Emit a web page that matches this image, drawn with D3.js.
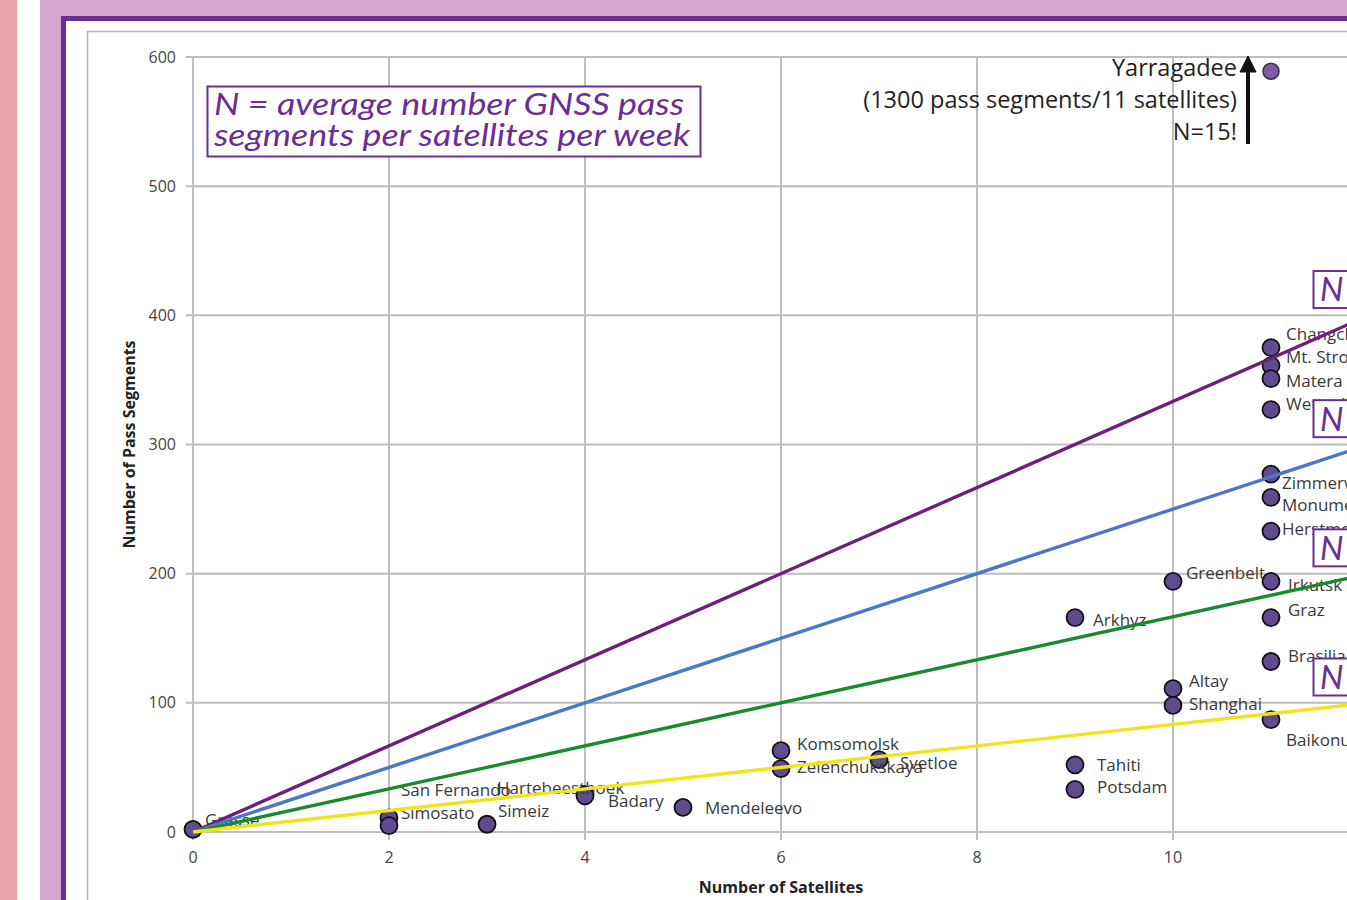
<!DOCTYPE html>
<html><head><meta charset="utf-8">
<script src="https://cdn.jsdelivr.net/npm/d3@7"></script>
<style>body{margin:0;overflow:hidden;background:#fff}</style>
</head><body>
<svg id="c" width="1347" height="900"></svg>
<script>
// ---- data ----
const stations = ["Grasse","San Fernando","Simosato","Simeiz","Hartebeesthoek","Badary","Mendeleevo",
  "Komsomolsk","Zelenchukskaya","Svetloe","Arkhyz","Tahiti","Potsdam","Greenbelt","Altay","Shanghai",
  "Changchun","Mt. Stromlo","Matera","Wettzell","Zimmerwald","Monument Peak","Herstmonceux","Irkutsk",
  "Graz","Brasilia","Baikonur"];
const satellites = [0,2,2,3,4,4,5,6,6,7,9,9,9,10,10,10,11,11,11,11,11,11,11,11,11,11,11];
const segments   = [2,11,5,6,29,28,19,63,49,56,166,52,33,194,111,98,375,361,351,327,277,259,233,194,166,132,87];
const labelDx = [12,12,12,11,-88,23,22,16,16,21,18,22,22,13,16,16,15,15,15,15,11,11,11,17,17,17,15];
const labelDy = [-9,-28,-12,-13,-6,5,1,-7,-2,3,2,0,-2,-8,-8,-1,-14,-9,2,-6,9,8,-2,4,-8,-5,20];
const outlierName = "Yarragadee", outlierSat = 11, outlierPlotted = 589;
const outlierText = ["Yarragadee","(1300 pass segments/11 satellites)","N=15!"];
const xTicks = [0,2,4,6,8,10,12];
const yTicks = [0,100,200,300,400,500,600];
const lineN = [4,3,2,1];
const lineEndX = 12;
const lineEndY = [400,300,200,100];
const lineColors = ["#6e1f7c","#4b78c6","#1a8a2e","#f0e41c"];
const legendText = ["N = average number GNSS pass","segments per satellites per week"];

// ---- layout ----
const svg = d3.select("#c");
svg.append("rect").attr("x",0).attr("y",0).attr("width",1347).attr("height",900).attr("fill","#fff");
svg.append("rect").attr("x",0).attr("y",0).attr("width",17).attr("height",900).attr("fill","#e8a6a9");
svg.append("rect").attr("x",40).attr("y",0).attr("width",1307).attr("height",900).attr("fill","#d4a6d0");
svg.append("rect").attr("x",63.5).attr("y",18.5).attr("width",1300).attr("height",900)
  .attr("fill","#fff").attr("stroke","#6a2e94").attr("stroke-width",5);
svg.append("rect").attr("x",87.5).attr("y",31.5).attr("width",1300).attr("height",900)
  .attr("fill","#fff").attr("stroke","#b4b4b4").attr("stroke-width",1.5);

const x = d3.scaleLinear().domain([0,12]).range([193,1369]);
const y = d3.scaleLinear().domain([0,600]).range([832,57]);

const grid = svg.append("g");
grid.selectAll("line.h").data(yTicks).join("line")
  .attr("x1",186).attr("x2",1369).attr("y1",d=>y(d)).attr("y2",d=>y(d))
  .attr("stroke","#bdbdbd").attr("stroke-width",2);
grid.selectAll("line.v").data(xTicks).join("line")
  .attr("x1",d=>x(d)).attr("x2",d=>x(d)).attr("y1",y(600)).attr("y2",840)
  .attr("stroke","#bdbdbd").attr("stroke-width",2);

const tickFont = "'Open Sans', sans-serif";
svg.append("g").selectAll("text").data(yTicks).join("text")
  .attr("x",176).attr("y",d=>y(d)).attr("dy","0.35em").attr("text-anchor","end")
  .attr("font-family",tickFont).attr("font-size",16).attr("fill","#444").text(d=>d);
svg.append("g").selectAll("text").data(xTicks).join("text")
  .attr("x",d=>x(d)).attr("y",857).attr("dy","0.35em").attr("text-anchor","middle")
  .attr("font-family",tickFont).attr("font-size",16).attr("fill","#444").text(d=>d);

svg.append("text").attr("x",x(6)).attr("y",887).attr("dy","0.35em").attr("text-anchor","middle")
  .attr("font-family",tickFont).attr("font-size",16).attr("font-weight","bold").attr("fill","#222")
  .text("Number of Satellites");
svg.append("text").attr("transform","translate(129,"+y(300)+") rotate(-90)").attr("dy","0.35em")
  .attr("text-anchor","middle").attr("font-family",tickFont).attr("font-size",16)
  .attr("font-weight","bold").attr("fill","#222").text("Number of Pass Segments");

// points
const pts = stations.map((s,i)=>({name:s,sx:satellites[i],sy:segments[i],dx:labelDx[i],dy:labelDy[i]}));
svg.append("g").selectAll("circle").data(pts).join("circle")
  .attr("cx",d=>x(d.sx)).attr("cy",d=>y(d.sy)).attr("r",8.5)
  .attr("fill","#5f4b8d").attr("stroke","#111").attr("stroke-width",1.8);
svg.append("circle").attr("cx",x(outlierSat)).attr("cy",y(outlierPlotted)).attr("r",8)
  .attr("fill","#7a5db0").attr("stroke","#333").attr("stroke-width",1.5);

svg.append("g").selectAll("text").data(pts).join("text")
  .attr("x",d=>x(d.sx)+d.dx).attr("y",d=>y(d.sy)+d.dy).attr("dy","0.35em")
  .attr("font-family",tickFont).attr("font-size",17).attr("fill","#3a3a3a").text(d=>d.name);

// N lines
svg.append("g").selectAll("line").data(lineN).join("line")
  .attr("x1",x(0)).attr("y1",y(0)).attr("x2",x(lineEndX)).attr("y2",(d,i)=>y(lineEndY[i]))
  .attr("stroke",(d,i)=>lineColors[i]).attr("stroke-width",3.4);

// N boxes at right
const nb = svg.append("g").selectAll("g").data(lineN).join("g");
nb.append("rect").attr("x",1313.5).attr("y",(d,i)=>y(lineEndY[i]+20)-18.5).attr("width",120).attr("height",37)
  .attr("fill","#fff").attr("stroke","#6a2e94").attr("stroke-width",2);
nb.append("text").attr("x",1320).attr("y",(d,i)=>y(lineEndY[i]+20)).attr("dy","0.36em")
  .attr("font-family","Lato, sans-serif").attr("font-style","italic").attr("font-size",33)
  .attr("fill","#6a2e94").text(d=>"N = "+d);

// legend box
svg.append("rect").attr("x",207.5).attr("y",86.5).attr("width",493).attr("height",70)
  .attr("fill","#fff").attr("stroke","#6a2e94").attr("stroke-width",2);
const legendLen = [470,476];
svg.append("g").selectAll("text").data(legendText).join("text")
  .attr("x",214).attr("y",(d,i)=>115+i*31)
  .attr("font-family","Lato, sans-serif").attr("font-style","italic").attr("font-size",31)
  .attr("textLength",(d,i)=>legendLen[i]).attr("lengthAdjust","spacingAndGlyphs")
  .attr("fill","#6a2e94").text(d=>d);

// outlier annotation
svg.append("g").selectAll("text").data(outlierText).join("text")
  .attr("x",1237).attr("y",(d,i)=>68+i*32).attr("dy","0.35em").attr("text-anchor","end")
  .attr("font-family",tickFont).attr("font-size",23.5).attr("fill","#222").text(d=>d);
svg.append("line").attr("x1",1248).attr("x2",1248).attr("y1",144).attr("y2",68)
  .attr("stroke","#111").attr("stroke-width",4);
svg.append("path").attr("d","M1240,72 L1248,56 L1256,72 Z").attr("fill","#111")
  .attr("stroke","#111").attr("stroke-width",1);
</script>
</body></html>
